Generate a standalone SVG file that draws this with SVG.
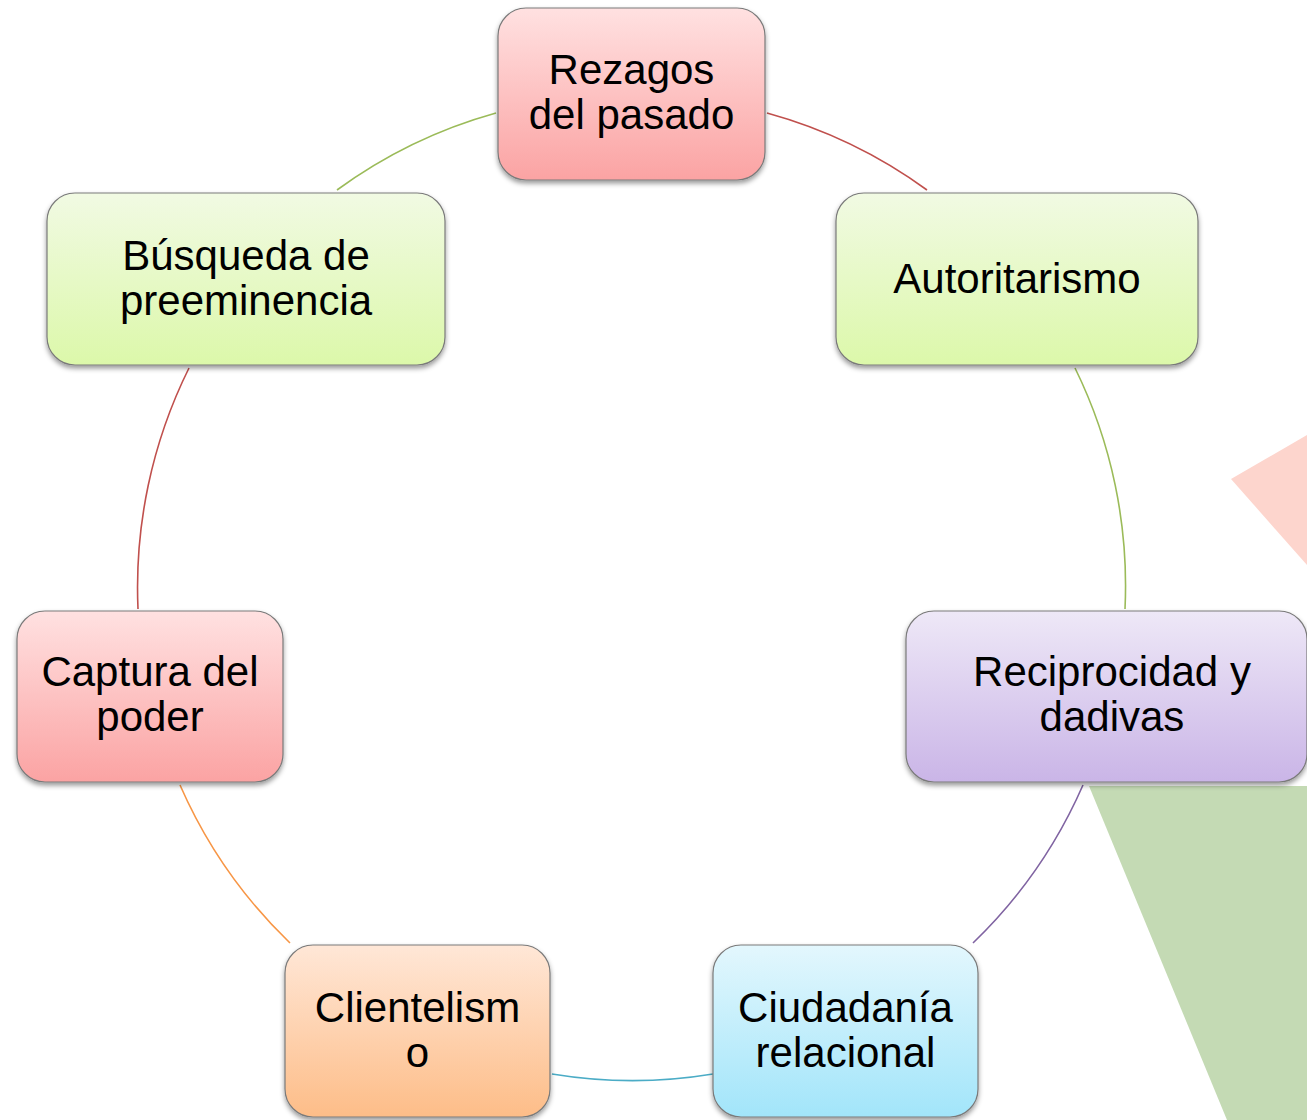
<svg xmlns="http://www.w3.org/2000/svg" width="1307" height="1120" viewBox="0 0 1307 1120">
<defs>
<linearGradient id="gRed" x1="0" y1="0" x2="0" y2="1"><stop offset="0" stop-color="#ffe1e1"/><stop offset="1" stop-color="#fba3a3"/></linearGradient>
<linearGradient id="gGreen" x1="0" y1="0" x2="0" y2="1"><stop offset="0" stop-color="#f1fae3"/><stop offset="1" stop-color="#dcf8aa"/></linearGradient>
<linearGradient id="gPurple" x1="0" y1="0" x2="0" y2="1"><stop offset="0" stop-color="#eee8f7"/><stop offset="1" stop-color="#cab5e7"/></linearGradient>
<linearGradient id="gBlue" x1="0" y1="0" x2="0" y2="1"><stop offset="0" stop-color="#e3f7fd"/><stop offset="1" stop-color="#a2e5fa"/></linearGradient>
<linearGradient id="gOrange" x1="0" y1="0" x2="0" y2="1"><stop offset="0" stop-color="#ffe7d7"/><stop offset="1" stop-color="#fdbd88"/></linearGradient>
<filter id="sh" x="-10%" y="-10%" width="120%" height="130%"><feDropShadow dx="0" dy="3" stdDeviation="2.5" flood-color="#000" flood-opacity="0.4"/></filter>
</defs>
<style>
.box{stroke:#7a7a7a;stroke-width:1.2;filter:url(#sh)}
.t{font-family:"Liberation Sans",Arial,sans-serif;font-size:42px;fill:#000;text-anchor:middle}
.c{fill:none;stroke-width:1.6}
</style>
<g id="background">
<polygon points="1231,479 1307,435 1307,565" fill="#fdd5cd"/>
<polygon points="1089,786 1307,786 1307,1120 1227,1120" fill="#c4dab4"/>
</g>
<g id="connectors">
<path class="c" stroke="#c0504d" d="M767,113 A494,494 0 0 1 927,190"/>
<path class="c" stroke="#9bbb59" d="M1075,368 A494,494 0 0 1 1125,609"/>
<path class="c" stroke="#8064a2" d="M1083,785 A494,494 0 0 1 973,943"/>
<path class="c" stroke="#4bacc6" d="M713,1074 A494,494 0 0 1 552,1074"/>
<path class="c" stroke="#f79646" d="M290,943 A494,494 0 0 1 180,785"/>
<path class="c" stroke="#c0504d" d="M138,609 A494,494 0 0 1 189,368"/>
<path class="c" stroke="#9bbb59" d="M337,190 A494,494 0 0 1 496,113"/>
</g>
<g id="node-rezagos">
<rect class="box" x="498" y="8" width="267" height="172" rx="28" fill="url(#gRed)"/>
<text class="t" x="631.5" y="84">Rezagos</text>
<text class="t" x="631.5" y="129">del pasado</text>
</g>
<g id="node-autoritarismo">
<rect class="box" x="836" y="193" width="362" height="172" rx="28" fill="url(#gGreen)"/>
<text class="t" x="1017" y="293">Autoritarismo</text>
</g>
<g id="node-reciprocidad">
<rect class="box" x="906" y="611" width="401" height="171" rx="28" fill="url(#gPurple)"/>
<text class="t" x="1112" y="686">Reciprocidad y</text>
<text class="t" x="1112" y="731">dadivas</text>
</g>
<g id="node-ciudadania">
<rect class="box" x="713" y="945" width="265" height="172" rx="28" fill="url(#gBlue)"/>
<text class="t" x="845.5" y="1022">Ciudadanía</text>
<text class="t" x="845.5" y="1067">relacional</text>
</g>
<g id="node-clientelismo">
<rect class="box" x="285" y="945" width="265" height="172" rx="28" fill="url(#gOrange)"/>
<text class="t" x="417.5" y="1022">Clientelism</text>
<text class="t" x="417.5" y="1067">o</text>
</g>
<g id="node-captura">
<rect class="box" x="17" y="611" width="266" height="171" rx="28" fill="url(#gRed)"/>
<text class="t" x="150" y="686">Captura del</text>
<text class="t" x="150" y="731">poder</text>
</g>
<g id="node-busqueda">
<rect class="box" x="47" y="193" width="398" height="172" rx="28" fill="url(#gGreen)"/>
<text class="t" x="246" y="270">Búsqueda de</text>
<text class="t" x="246" y="315">preeminencia</text>
</g>
</svg>
